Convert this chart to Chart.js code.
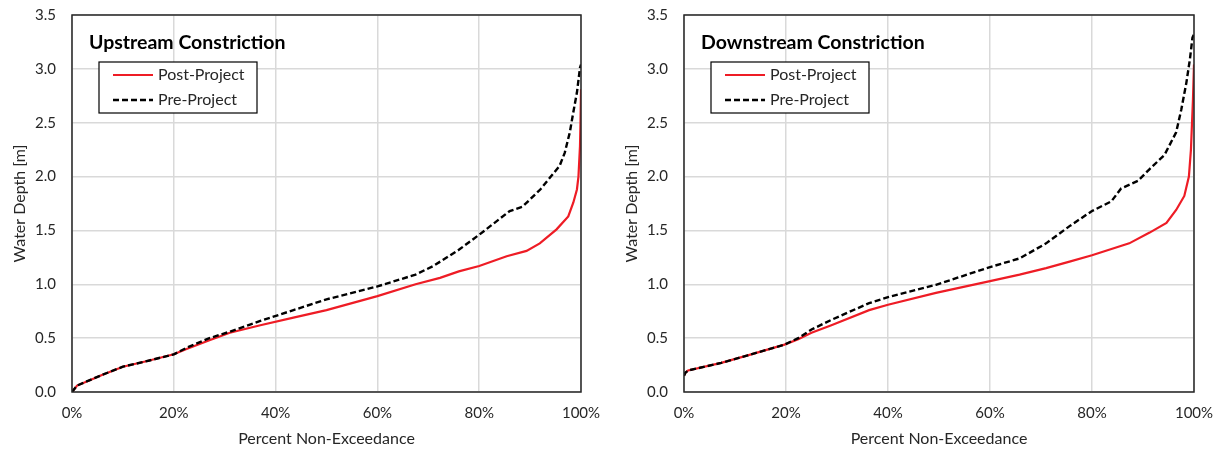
<!DOCTYPE html>
<html>
<head>
<meta charset="utf-8">
<script src="https://cdn.jsdelivr.net/npm/chart.js@4.4.1/dist/chart.umd.min.js"></script>
<style>
  body { margin: 0; background: #fff; }
  .wrap { position: absolute; top: 0; }
</style>
</head>
<body>
<div class="wrap" style="left:0"><canvas id="upChart" width="610" height="454"></canvas></div>
<div class="wrap" style="left:612px"><canvas id="downChart" width="609" height="454"></canvas></div>
<script>
// Upstream constriction
const upPreX   = [0, 1, 3.5, 6, 10, 15, 20, 22.5, 27, 31, 37, 43.5, 50, 60, 67.5, 71, 76, 80, 86, 88.5, 92, 95.8, 96.8, 97.8, 98.5, 99.2, 99.8, 100];
const upPreY   = [0, 0.06, 0.11, 0.16, 0.235, 0.29, 0.35, 0.41, 0.50, 0.56, 0.66, 0.76, 0.86, 0.98, 1.09, 1.17, 1.32, 1.46, 1.68, 1.72, 1.88, 2.10, 2.22, 2.41, 2.60, 2.78, 3.01, 3.04];
const upPostX  = [0, 1, 3.5, 6, 10, 15, 20, 22.5, 27, 31, 37, 43.5, 50, 60, 67.5, 72.3, 76, 80, 85.4, 89.3, 91.9, 95.2, 97.5, 98.5, 99.2, 99.5, 99.8, 99.9, 100];
const upPostY  = [0, 0.06, 0.11, 0.16, 0.235, 0.29, 0.35, 0.40, 0.48, 0.55, 0.62, 0.69, 0.76, 0.89, 1.0, 1.06, 1.12, 1.17, 1.26, 1.31, 1.38, 1.51, 1.63, 1.76, 1.88, 2.0, 2.28, 2.5, 2.81];

// Downstream constriction
const downPreX  = [0, 0.3, 0.8, 7.3, 12.5, 19.7, 22.4, 25, 28.9, 36.3, 40, 49.4, 60, 65.8, 71, 75.6, 80, 83.8, 85.7, 89, 91.3, 94.2, 96.5, 97.5, 98.5, 99.2, 99.7, 100];
const downPreY  = [0.15, 0.18, 0.20, 0.27, 0.34, 0.44, 0.50, 0.58, 0.67, 0.825, 0.88, 0.995, 1.16, 1.24, 1.38, 1.54, 1.68, 1.77, 1.89, 1.96, 2.07, 2.20, 2.41, 2.62, 2.87, 3.09, 3.29, 3.32];
const downPostX = [0, 0.3, 0.8, 7.3, 12.5, 19.7, 22.4, 25, 28.9, 36.3, 40, 49.4, 60, 65.8, 71, 75.6, 80, 87.3, 91.3, 94.6, 96.5, 98.1, 99, 99.4, 99.8, 100];
const downPostY = [0.15, 0.18, 0.20, 0.27, 0.34, 0.44, 0.49, 0.55, 0.62, 0.76, 0.81, 0.92, 1.03, 1.09, 1.15, 1.21, 1.27, 1.38, 1.48, 1.57, 1.69, 1.82, 2.0, 2.25, 2.72, 3.04];

const FONT = 'Lato';
const TXT = '#262626';

const toPts = (xs, ys) => xs.map((x, i) => ({ x: x, y: ys[i] }));

// frame, title and legend inside the plot area
const framePlugin = {
    id: 'frame',
    afterDraw(chart, args, opts) {
        const ctx = chart.ctx;
        const a = chart.chartArea;
        ctx.save();
        ctx.strokeStyle = '#262626';
        ctx.lineWidth = 1.5;
        ctx.strokeRect(a.left, a.top, a.right - a.left, a.bottom - a.top);

        ctx.fillStyle = '#000';
        ctx.textBaseline = 'middle';
        ctx.font = 'bold 19.5px ' + FONT;
        ctx.fillText(opts.title, a.left + 17, a.top + 28);

        const bx = a.left + 27, by = a.top + 47;
        ctx.fillStyle = '#fff';
        ctx.fillRect(bx, by, 158, 51);
        ctx.strokeStyle = '#000';
        ctx.lineWidth = 1.2;
        ctx.strokeRect(bx, by, 158, 51);

        chart.data.datasets.forEach((ds, i) => {
            const y = by + 13 + i * 25;
            ctx.beginPath();
            ctx.strokeStyle = ds.borderColor;
            ctx.lineWidth = ds.borderWidth;
            ctx.setLineDash(ds.borderDash || []);
            ctx.moveTo(bx + 14, y);
            ctx.lineTo(bx + 54, y);
            ctx.stroke();
            ctx.setLineDash([]);
            ctx.fillStyle = TXT;
            ctx.font = '16px ' + FONT;
            ctx.fillText(ds.label, bx + 59, y);
        });
        ctx.restore();
    }
};

function makeChart(id, title, postPts, prePts, padRight) {
    const ctx = document.getElementById(id).getContext('2d');
    return new Chart(ctx, {
        type: 'scatter',
        data: {
            datasets: [{
                label: 'Post-Project',
                data: postPts,
                showLine: true,
                borderColor: '#ee1c25',
                borderWidth: 2.2,
                pointRadius: 0,
                order: 2
            }, {
                label: 'Pre-Project',
                data: prePts,
                showLine: true,
                borderColor: '#000000',
                borderWidth: 2.4,
                borderDash: [6, 3],
                pointRadius: 0,
                order: 1
            }]
        },
        options: {
            responsive: false,
            animation: false,
            layout: { padding: { left: 0, right: padRight, top: 15, bottom: 0 } },
            plugins: {
                legend: { display: false },
                tooltip: { enabled: false },
                frame: { title: title }
            },
            scales: {
                x: {
                    type: 'linear',
                    min: 0,
                    max: 100,
                    afterFit: s => { s.height = 62; s.paddingLeft = 0; s.paddingRight = 0; },
                    ticks: {
                        stepSize: 20,
                        padding: 12,
                        color: TXT,
                        font: { family: FONT, size: 15 },
                        callback: v => v + '%'
                    },
                    grid: { color: '#d9d9d9', lineWidth: 1.5, drawTicks: false },
                    border: { display: false },
                    title: {
                        display: true,
                        text: 'Percent Non-Exceedance',
                        color: TXT,
                        font: { family: FONT, size: 16 },
                        padding: { top: 0, bottom: 6 }
                    }
                },
                y: {
                    min: 0,
                    max: 3.5,
                    afterFit: s => { s.width = 72; s.paddingTop = 0; s.paddingBottom = 0; },
                    ticks: {
                        stepSize: 0.5,
                        padding: 16,
                        color: TXT,
                        font: { family: FONT, size: 15 },
                        callback: v => v.toFixed(1)
                    },
                    grid: { color: '#d9d9d9', lineWidth: 1.5, drawTicks: false },
                    border: { display: false },
                    title: {
                        display: true,
                        text: 'Water Depth [m]',
                        color: TXT,
                        font: { family: FONT, size: 16 },
                        padding: { top: 10, bottom: 0 }
                    }
                }
            }
        },
        plugins: [framePlugin]
    });
}

makeChart('upChart', 'Upstream Constriction', toPts(upPostX, upPostY), toPts(upPreX, upPreY), 29);
makeChart('downChart', 'Downstream Constriction', toPts(downPostX, downPostY), toPts(downPreX, downPreY), 27);
</script>
</body>
</html>
